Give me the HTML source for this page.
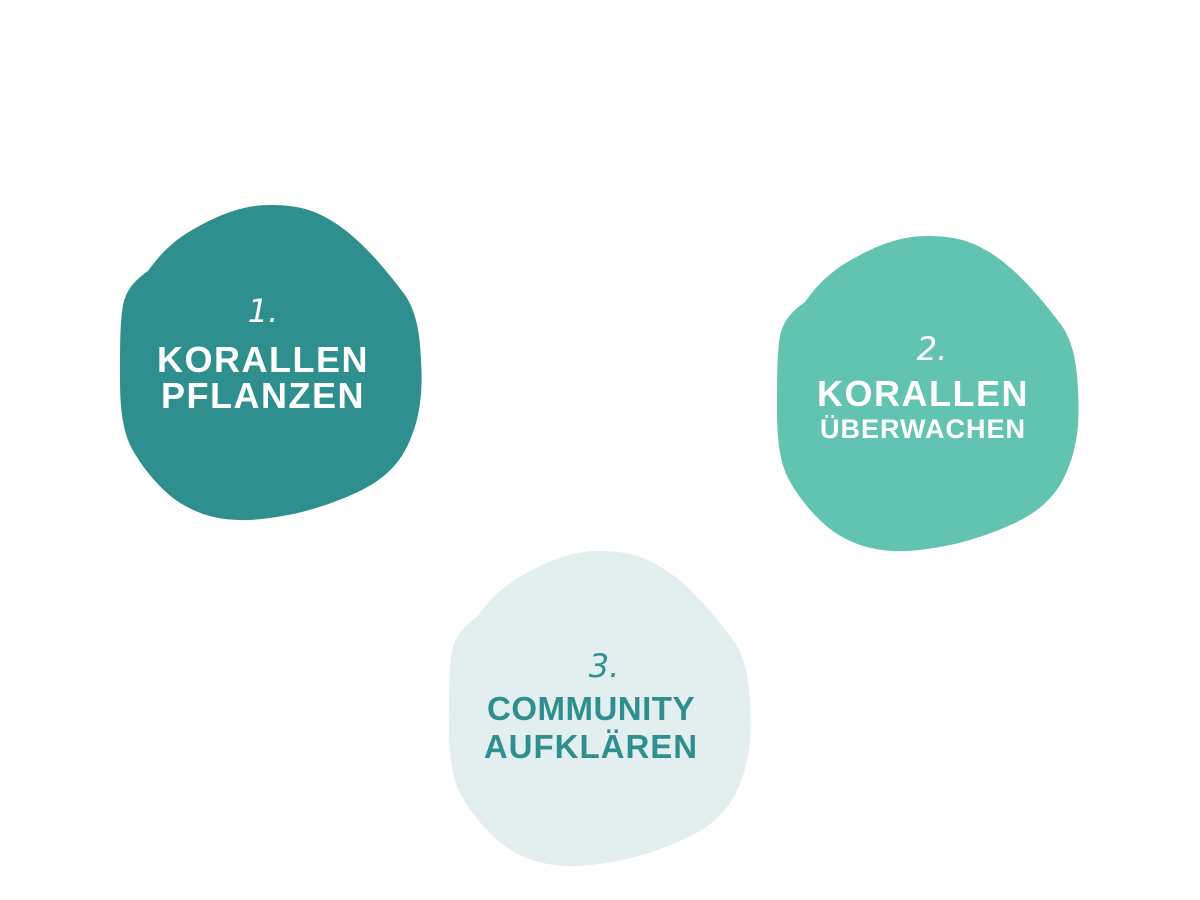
<!DOCTYPE html>
<html><head><meta charset="utf-8"><style>
html,body{margin:0;padding:0;background:#fff;width:1200px;height:900px;overflow:hidden}
svg{display:block}
.n{font-family:"DejaVu Sans","Liberation Sans",sans-serif;font-style:italic;font-size:32px;}
.t{font-family:"Liberation Sans",sans-serif;font-weight:bold;}
</style></head><body>
<svg width="1200" height="900" viewBox="0 0 1200 900">
<defs>
<path id="blob" d="M150,0 C175,0 190,4 205,12 C230,25 255,50 285,90 C297,108 300,130 301,155 C303,185 300,210 292,230 C283,255 268,272 240,286 C210,300 175,312 130,315 C100,316 80,310 60,298 C40,285 20,260 10,240 C2,222 0,200 0,175 C0,140 0,118 3,100 C6,85 15,75 28,66 C38,52 50,38 72,25 C95,12 120,0 150,0 Z"/>
</defs>
<use href="#blob" x="120" y="205" fill="#2F8F8E"/>
<use href="#blob" x="777" y="236" fill="#62C4B0"/>
<use href="#blob" x="449" y="551" fill="#E3EFEF"/>

<g fill="#fff" text-anchor="middle">
<text class="n" x="263" y="322">1.</text>
<text class="t" x="263" y="372" font-size="36" letter-spacing="1.5">KORALLEN</text>
<text class="t" x="263" y="408" font-size="36" letter-spacing="1.5">PFLANZEN</text>
<text class="n" x="932" y="360">2.</text>
<text class="t" x="923" y="406" font-size="36" letter-spacing="1.5">KORALLEN</text>
<text class="t" x="923" y="438" font-size="27" letter-spacing="1">ÜBERWACHEN</text>
</g>
<g fill="#2F8F8E" text-anchor="middle">
<text class="n" x="604" y="677">3.</text>
<text class="t" x="591" y="720" font-size="33" letter-spacing="0.5">COMMUNITY</text>
<text class="t" x="591" y="758" font-size="33" letter-spacing="1">AUFKLÄREN</text>
</g>
</svg>
</body></html>
